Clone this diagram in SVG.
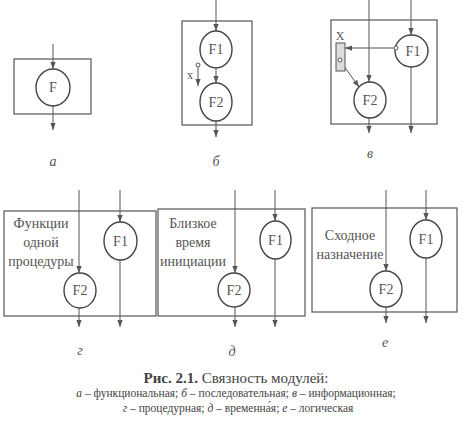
<svg xmlns="http://www.w3.org/2000/svg" width="472" height="432" viewBox="0 0 472 432">
<defs>
<marker id="ar" viewBox="0 0 8 6" refX="8" refY="3" markerWidth="7" markerHeight="6" markerUnits="userSpaceOnUse" orient="auto">
<path d="M0,0 L8,3 L0,6 Z" fill="#555"/>
</marker>
</defs>
<style>
.box{fill:none;stroke:#555;stroke-width:1.2}
.nd{fill:#fff;stroke:#444;stroke-width:1.4}
.ln{fill:none;stroke:#555;stroke-width:1;marker-end:url(#ar)}
.pin{fill:#fff;stroke:#555;stroke-width:1}
</style>
<rect width="472" height="432" fill="#fff"/>
<g id="frames">
<rect class="box" x="14" y="59" width="77" height="55"/>
<rect class="box" x="182" y="21" width="70" height="104"/>
<rect class="box" x="331" y="20" width="106" height="104"/>
<rect class="box" x="4" y="211" width="152" height="105"/>
<rect class="box" x="158" y="209" width="147" height="107"/>
<rect class="box" x="312" y="208" width="145" height="104"/>
</g>
<g id="connectors">
<line class="ln" x1="53" y1="44" x2="53" y2="69"/>
<line class="ln" x1="53" y1="106" x2="53" y2="130"/>
<line class="ln" x1="216" y1="0" x2="216" y2="31"/>
<line class="ln" x1="216" y1="68" x2="216" y2="83"/>
<line class="ln" x1="216" y1="121" x2="216" y2="137"/>
<line class="ln" x1="198" y1="67" x2="198" y2="86"/>
<line class="ln" x1="369" y1="0" x2="369" y2="82"/>
<line class="ln" x1="411" y1="0" x2="411" y2="35"/>
<line class="ln" x1="411" y1="67" x2="411" y2="133"/>
<line class="ln" x1="369" y1="118" x2="369" y2="133"/>
<line class="ln" x1="394" y1="48" x2="345" y2="48"/>
<line class="ln" x1="341" y1="62" x2="359" y2="87"/>
<line class="ln" x1="79" y1="190" x2="79" y2="273"/>
<line class="ln" x1="79" y1="308" x2="79" y2="327"/>
<line class="ln" x1="120" y1="190" x2="120" y2="222"/>
<line class="ln" x1="120" y1="260" x2="120" y2="327"/>
<line class="ln" x1="235" y1="190" x2="235" y2="273"/>
<line class="ln" x1="235" y1="307" x2="235" y2="327"/>
<line class="ln" x1="275" y1="190" x2="275" y2="221"/>
<line class="ln" x1="275" y1="259" x2="275" y2="327"/>
<line class="ln" x1="386" y1="190" x2="386" y2="271"/>
<line class="ln" x1="386" y1="307" x2="386" y2="323"/>
<line class="ln" x1="426" y1="190" x2="426" y2="220"/>
<line class="ln" x1="426" y1="258" x2="426" y2="323"/>
</g>
<g font-family="'Liberation Serif', 'DejaVu Serif', serif" font-size="14" fill="#555" text-anchor="middle">
<g id="node-a-F">
<ellipse class="nd" cx="53" cy="87.5" rx="17" ry="18.5"/>
<text x="53" y="92">F</text>
</g>
<g id="node-b-F1">
<ellipse class="nd" cx="216" cy="49.5" rx="16" ry="18.5"/>
<text x="216" y="54">F1</text>
</g>
<g id="node-b-F2">
<ellipse class="nd" cx="216" cy="102" rx="16" ry="19"/>
<text x="216" y="107">F2</text>
</g>
<g id="node-b-x">
<circle class="pin" cx="198" cy="65" r="2"/>
<text x="190" y="79" font-size="12">x</text>
</g>
<g id="node-v-F1">
<ellipse class="nd" cx="411.5" cy="51" rx="16.5" ry="16"/>
<text x="413" y="56">F1</text>
<circle class="pin" cx="396" cy="48" r="2"/>
</g>
<g id="node-v-F2">
<ellipse class="nd" cx="370" cy="100" rx="16" ry="18"/>
<text x="370" y="105">F2</text>
</g>
<g id="node-v-X">
<rect x="336" y="43" width="9" height="28" fill="#ddd" stroke="#555" stroke-width="1"/>
<circle class="pin" cx="340" cy="60" r="2"/>
<text x="340" y="40" font-size="12">X</text>
</g>
<g id="node-g-F1">
<ellipse class="nd" cx="120.5" cy="241" rx="16.5" ry="19"/>
<text x="120.5" y="246">F1</text>
</g>
<g id="node-g-F2">
<ellipse class="nd" cx="80" cy="290.5" rx="16" ry="17.5"/>
<text x="80" y="295">F2</text>
</g>
<g id="node-d-F1">
<ellipse class="nd" cx="275.5" cy="240" rx="15.5" ry="19"/>
<text x="275.5" y="245">F1</text>
</g>
<g id="node-d-F2">
<ellipse class="nd" cx="234" cy="290" rx="16" ry="17"/>
<text x="234" y="295">F2</text>
</g>
<g id="node-e-F1">
<ellipse class="nd" cx="426" cy="239" rx="16" ry="19"/>
<text x="426" y="244">F1</text>
</g>
<g id="node-e-F2">
<ellipse class="nd" cx="386" cy="289" rx="16" ry="18"/>
<text x="386" y="294">F2</text>
</g>
<g id="texts">
<text x="41" y="228">Функции</text>
<text x="41" y="247">одной</text>
<text x="41" y="266">процедуры</text>
<text x="193" y="228">Близкое</text>
<text x="193" y="247">время</text>
<text x="193" y="266">инициации</text>
<text x="350" y="240">Сходное</text>
<text x="350" y="259">назначение</text>
<g font-style="italic">
<text x="53" y="166">а</text>
<text x="216" y="166">б</text>
<text x="370" y="158">в</text>
<text x="80" y="355">г</text>
<text x="232" y="356">д</text>
<text x="385" y="347">е</text>
</g>
</g>
<g id="caption" fill="#444">
<text x="236" y="383" font-size="15"><tspan font-weight="bold">Рис. 2.1.</tspan> Связность модулей:</text>
<text x="236" y="397" font-size="11.5"><tspan font-style="italic">а</tspan> – функциональная; <tspan font-style="italic">б</tspan> – последовательная; <tspan font-style="italic">в</tspan> – информационная;</text>
<text x="238" y="412" font-size="11.5"><tspan font-style="italic">г</tspan> – процедурная; <tspan font-style="italic">д</tspan> – временна́я; <tspan font-style="italic">е</tspan> – логическая</text>
</g>
</g>
</svg>
